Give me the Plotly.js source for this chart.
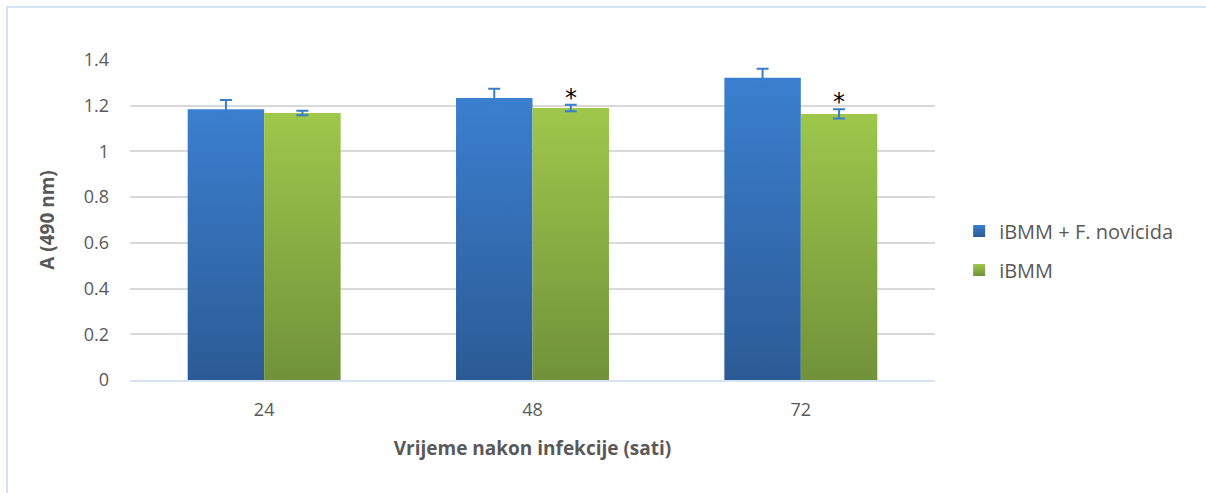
<!DOCTYPE html>
<html><head><meta charset="utf-8">
<script src="https://cdn.plot.ly/plotly-3.0.1.min.js"></script>
<style>
html,body{margin:0;padding:0;background:#fff;}
#frame{position:absolute;left:6px;top:6px;width:1200px;height:487px;border-left:2px solid #d6e3f4;border-top:2px solid #d6e3f4;}
#chart{position:absolute;left:0;top:0;width:1206px;height:493px;}
</style></head>
<body>
<div id="frame"></div>
<div id="chart"></div>
<script>
const categories = ['24', '48', '72'];
const infectedValues = [1.185, 1.234, 1.322];
const infectedErrors = [0.040, 0.040, 0.040];
const controlValues = [1.168, 1.190, 1.164];
const controlErrors = [0.010, 0.014, 0.020];
const controlMarks = ['', '*', '*'];
const seriesNames = ['iBMM + F. novicida', 'iBMM'];
const yTicks = [0, 0.2, 0.4, 0.6, 0.8, 1, 1.2, 1.4];
const yTickText = ['0', '0.2', '0.4', '0.6', '0.8', '1', '1.2', '1.4'];

const FONT = '"Open Sans", sans-serif';
const errStyle = {type: 'data', visible: true, color: '#3a7dcb', thickness: 2, width: 6};

const traces = [
  {type: 'bar', name: seriesNames[0], legendgroup: 'g1', x: categories, y: infectedValues,
   error_y: Object.assign({array: infectedErrors}, errStyle),
   marker: {color: '#3470b8', line: {width: 0}}},
  {type: 'bar', name: seriesNames[1], legendgroup: 'g2', x: categories, y: controlValues,
   error_y: Object.assign({array: controlErrors}, errStyle),
   marker: {color: '#8aaf44', line: {width: 0}}}
];

const annotations = [];
categories.forEach((c, i) => {
  if (controlMarks[i]) {
    annotations.push({x: i, y: controlValues[i] + controlErrors[i], xref: 'x', yref: 'y',
      text: controlMarks[i], showarrow: false, xshift: 38, yshift: 7,
      font: {family: 'DejaVu Sans, sans-serif', size: 24, color: '#000'}});
  }
});

const layout = {
  width: 1206, height: 493,
  margin: {l: 130, r: 271, t: 60, b: 113},
  paper_bgcolor: 'rgba(0,0,0,0)', plot_bgcolor: 'rgba(0,0,0,0)',
  barmode: 'group', bargap: 0.43, bargroupgap: 0,
  font: {family: FONT, color: '#595959', size: 17},
  xaxis: {type: 'category', range: [-0.5, 2.5], autorange: false, showgrid: false, showline: true,
    linecolor: '#d6e3f4', linewidth: 2,
    ticks: '', tickfont: {size: 18, color: '#595959'}, ticklabelstandoff: 12,
    title: {text: '<b>Vrijeme nakon infekcije (sati)</b>', font: {size: 19, color: '#595959'}, standoff: 22}},
  yaxis: {range: [0, 1.4], autorange: false, tickvals: yTicks, ticktext: yTickText, showgrid: true,
    gridcolor: '#d9d9d9', gridwidth: 2, zeroline: false, showline: false, ticks: '',
    tickfont: {size: 18, color: '#595959'}, ticklabelstandoff: 20,
    title: {text: '<b>A (490 nm)</b>', font: {size: 19, color: '#595959'}, standoff: 24}},
  legend: {x: 1.03, y: 0.405, xanchor: 'left', yanchor: 'middle', font: {size: 20, color: '#595959'},
    tracegroupgap: 10, itemwidth: 30},
  annotations: annotations,
  showlegend: true
};

Plotly.newPlot('chart', traces, layout, {displayModeBar: false, staticPlot: true}).then(gd => {
  const svg = gd.querySelector('svg.main-svg');
  const ns = 'http://www.w3.org/2000/svg';
  let defs = svg.querySelector('defs');
  if (!defs) { defs = document.createElementNS(ns, 'defs'); svg.insertBefore(defs, svg.firstChild); }
  const grads = [['gBlue', '#3b7fcf', '#2b5b95'], ['gGreen', '#9ec74b', '#71923a']];
  grads.forEach(([id, top, bot]) => {
    const g = document.createElementNS(ns, 'linearGradient');
    g.setAttribute('id', id); g.setAttribute('x1', '0'); g.setAttribute('y1', '0');
    g.setAttribute('x2', '0'); g.setAttribute('y2', '1');
    [[0, top], [1, bot]].forEach(([o, c]) => {
      const s = document.createElementNS(ns, 'stop');
      s.setAttribute('offset', o); s.setAttribute('stop-color', c); g.appendChild(s);
    });
    defs.appendChild(g);
  });
  gd.querySelectorAll('g.trace.bars').forEach((tr, i) => {
    tr.querySelectorAll('g.point path').forEach(p => { p.style.fill = 'url(#' + grads[i][0] + ')'; });
  });
  gd.querySelectorAll('g.legend g.traces').forEach((tr, i) => {
    tr.querySelectorAll('g.legendpoints path').forEach(p => { p.style.fill = 'url(#' + grads[i][0] + ')'; });
  });
});
</script>
</body></html>
